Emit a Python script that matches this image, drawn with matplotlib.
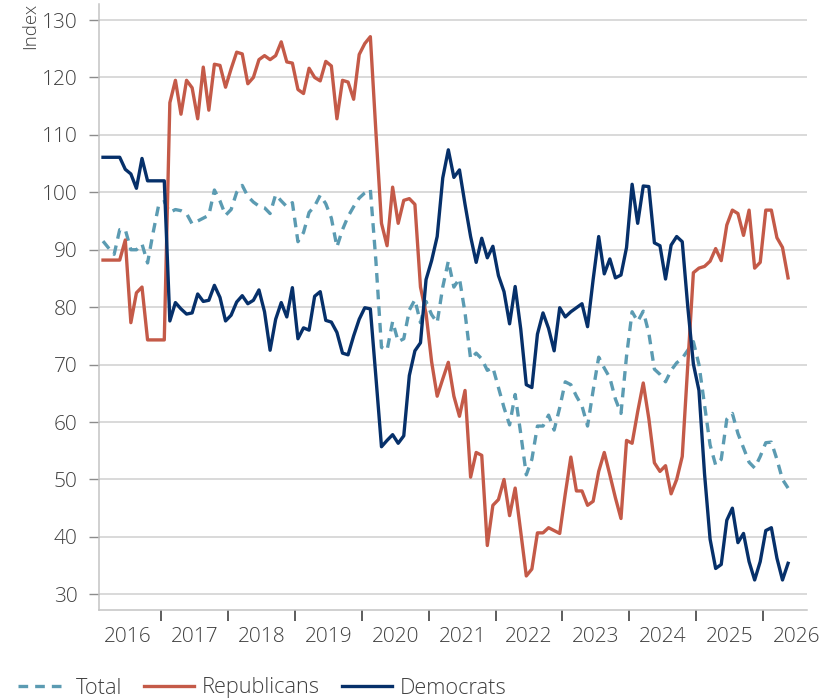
import numpy as np
import matplotlib
matplotlib.use("Agg")
import matplotlib.pyplot as plt

# monthly readings, Feb 2016 .. May 2026
total = [91.5, 90.3, 89.2, 93.5, 93.5, 90.0, 90.0, 91.0, 87.7, 93.0, 97.8, 98.4,
         96.5, 97.0, 96.8, 96.3, 94.5, 95.0, 95.5, 96.0, 100.4, 98.5, 96.0, 97.0,
         100.0, 101.2, 99.3, 98.3, 97.6, 97.3, 96.3, 99.6, 98.5, 97.5, 98.2, 91.4,
         93.0, 96.5, 97.6, 99.5, 98.0, 95.5, 90.5, 93.5, 95.8, 97.5, 99.0, 99.9,
         100.5, 88.0, 73.0, 72.5, 77.5, 74.0, 74.5, 79.5, 81.3, 77.3, 81.0, 78.7,
         77.3, 83.5, 88.0, 83.5, 85.0, 79.0, 71.0, 72.0, 71.0, 69.0, 69.5, 66.0,
         62.5, 59.5, 64.8, 58.0, 50.8, 53.5, 59.3, 59.3, 61.2, 58.6, 62.5, 67.0,
         66.5, 64.5, 62.8, 59.3, 65.5, 71.3, 69.4, 67.7, 64.0, 61.5, 71.5, 79.2,
         77.5, 79.3, 75.5, 69.2, 68.3, 67.0, 69.0, 70.3, 71.1, 72.5, 74.0, 70.0,
         63.0, 56.0, 52.5, 53.5, 60.5, 61.5, 58.0, 55.5, 53.0, 52.0, 54.0, 56.4,
         56.5, 53.5, 50.0, 48.5]

republicans = [88.2, 88.2, 88.2, 88.2, 91.7, 77.3, 82.5, 83.5, 74.3, 74.3, 74.3, 74.3,
               115.6, 119.5, 113.6, 119.5, 118.2, 112.8, 121.8, 114.3, 122.3,
               122.1, 118.3, 121.5, 124.4, 124.1, 118.9, 120.0, 123.1, 123.8, 123.1,
               123.8, 126.2, 122.7, 122.5, 117.9, 117.2, 121.6, 120.0, 119.4, 122.8, 122.0,
               112.8, 119.5, 119.2, 116.2, 124.0, 125.9, 127.1, 110.5, 94.6, 90.7,
               100.9, 94.6, 98.6, 98.9, 97.9, 83.5, 78.9, 70.5, 64.5, 67.5, 70.4,
               64.5, 61.0, 65.5, 50.4, 54.7, 54.2, 38.5, 45.5, 46.5, 50.0, 43.7,
               48.5, 40.9, 33.2, 34.4, 40.7, 40.7, 41.6, 41.1, 40.6, 47.5,
               53.9, 48.0, 48.0, 45.5, 46.2, 51.4, 54.7, 50.8, 46.8, 43.2, 56.8,
               56.3, 61.8, 66.8, 60.6, 52.9, 51.4, 52.4, 47.5, 50.0, 54.0,
               70.0, 86.0, 86.8, 87.1, 88.0,
               90.2, 88.1, 94.3, 96.9, 96.3, 92.5, 96.9, 86.8, 87.8, 96.9, 96.9,
               92.1, 90.4, 85.1]

democrats = [106.1, 106.1, 106.1, 106.1, 104.0, 103.2, 100.7, 105.9, 102.0, 102.0, 102.0, 102.0,
             77.6, 80.8, 79.7, 78.8, 79.0, 82.3, 81.0, 81.2, 83.8,
             81.7, 77.6, 78.6, 80.9, 82.0, 80.6, 81.2, 83.0, 79.2, 72.5, 77.9,
             80.8, 78.3, 83.4, 74.5, 76.4, 76.0, 81.9, 82.7, 77.7, 77.4,
             75.6, 72.0, 71.7, 75.0, 77.9, 79.9, 79.7, 67.8, 55.7, 56.8, 57.8,
             56.3, 57.6, 68.1, 72.4, 73.8, 84.8, 88.1, 92.3, 102.5, 107.4,
             102.6, 103.9, 97.9, 92.3, 87.8, 92.0, 88.6, 90.6, 85.5, 82.7, 77.1,
             83.6, 76.2, 66.5, 66.0, 75.3, 79.0, 76.3, 72.4, 79.9, 78.3,
             79.2, 79.9, 80.6, 76.6, 84.8, 92.3, 85.8, 88.4, 85.1, 85.6, 90.4,
             101.4, 94.6, 101.1, 101.0, 91.2, 90.7, 84.9, 90.8, 92.3, 91.4,
             80.0, 70.1, 65.5, 51.0, 39.6,
             34.5, 35.2, 42.9, 45.0, 39.0, 40.6, 35.7, 32.5, 35.7, 41.1, 41.6,
             36.3, 32.5, 35.4]

years = ['2016', '2017', '2018', '2019', '2020', '2021', '2022', '2023', '2024', '2025', '2026']
first_month = 1  # Feb 2016 is month index 0, Jan 2016 would be -1

plt.rcParams['font.family'] = ['Open Sans', 'DejaVu Sans']
plt.rcParams['font.weight'] = 'light'
text_col = '#404040'

fig = plt.figure(figsize=(8.39, 6.98), dpi=100)
ax = fig.add_axes([99/839, 88/698, 708/839, 606/698])

x = np.arange(len(total))
ax.plot(x, total, color='#5b9bb2', lw=2.4, ls=(0, (2.9, 2.1)), label='Total')
ax.plot(x, republicans, color='#c45a48', lw=2.4, label='Republicans')
ax.plot(x, democrats, color='#06306a', lw=2.4, label='Democrats')

ax.set_xlim(-0.72, 126.4)
ax.set_ylim(27.27, 132.79)
ax.set_yticks(np.arange(30, 131, 10))
ax.grid(axis='y', color='#d0d0d0', lw=1.1)
ax.set_axisbelow(True)

# year boundaries as major ticks, labels centred in each year
ax.set_xticks([12*k - first_month - 0.5 + 12 for k in range(len(years) - 1)])
ax.set_xticklabels([])
ax.set_xticks([12*k - first_month + 5.5 for k in range(len(years))], minor=True)
ax.set_xticklabels(years, minor=True)
ax.tick_params(axis='x', which='major', length=8, width=1.3, color='#505050')
ax.tick_params(axis='x', which='minor', length=0, pad=12, labelsize=15, labelcolor=text_col)
ax.tick_params(axis='y', length=7.5, width=1, color='#8c8c8c', pad=8,
               labelsize=15, labelcolor=text_col)

for s in ['top', 'right']:
    ax.spines[s].set_visible(False)
for s in ['left', 'bottom']:
    ax.spines[s].set_color('#c4c4c4')
    ax.spines[s].set_linewidth(1.1)

fig.text(30/839, 1 - 3/698, 'Index', rotation=90, ha='center', va='top',
         fontsize=13.5, color=text_col)

fig.legend(loc='center left', bbox_to_anchor=(18/839, 1 - 688/698), ncol=3,
           frameon=False, fontsize=15.7, handlelength=2.3, handletextpad=0.35,
           columnspacing=1.0, borderpad=0, borderaxespad=0, labelcolor=text_col)

fig.savefig('out.png', dpi=100)
